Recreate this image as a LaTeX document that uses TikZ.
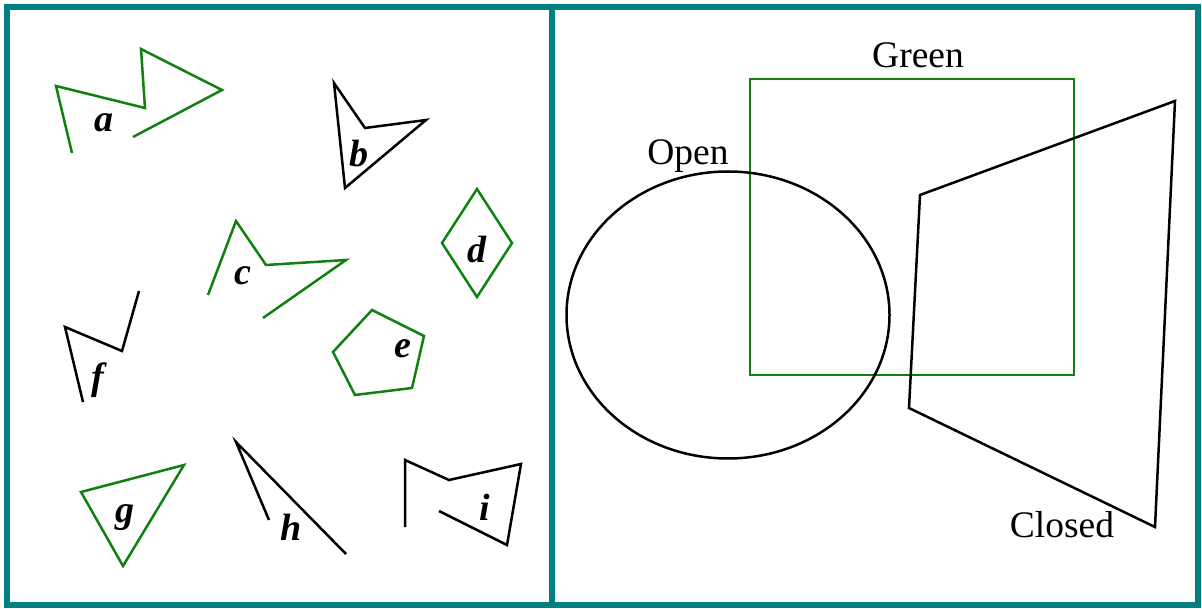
\documentclass[tikz,border=0pt]{standalone}
\usepackage{fontspec}
\setmainfont{Liberation Serif}
\definecolor{teal}{RGB}{0,128,128}
\definecolor{dgreen}{RGB}{16,128,16}
\begin{document}
\begin{tikzpicture}[x=1pt,y=-1pt,
  shp/.style={line width=2.5pt,line join=miter},
  gr/.style={shp,draw=dgreen},
  bk/.style={shp,draw=black},
  lbl/.style={anchor=base,inner sep=0pt,font=\fontsize{38}{40}\selectfont\bfseries\itshape},
  word/.style={anchor=base,inner sep=0pt,font=\fontsize{37.5}{40}\selectfont}]
\useasboundingbox (0,0) rectangle (1202,609);
% frame
\draw[teal,line width=6pt] (7,7) rectangle (1198,605);
\draw[teal,line width=6pt] (552,7) -- (552,605);
% left panel shapes
\draw[gr] (72,153) -- (56,86) -- (145,108) -- (141,49) -- (222,90) -- (133,137);
\node[lbl] (la) at (104,132) {a};
\draw[bk] (334,83) -- (365,128) -- (426,120) -- (345,188) -- cycle;
\node[lbl] (lb) at (359,167) {b};
\draw[gr] (208,295) -- (236,221) -- (266,265) -- (346,260) -- (263,318);
\node[lbl] (lc) at (243,285) {c};
\draw[gr] (477,189) -- (512,243) -- (477,297) -- (442,243) -- cycle;
\node[lbl] (ld) at (477,263) {d};
\draw[gr] (372,310) -- (424,336) -- (412,388) -- (355,395) -- (333,352) -- cycle;
\node[lbl] (le) at (403,358) {e};
\draw[bk] (139,291) -- (122,351) -- (65,327) -- (83,402);
\node[lbl] (lf) at (98,389) {f};
\draw[gr] (81,492) -- (184,465) -- (123,566) -- cycle;
\node[lbl] (lg) at (125,522) {g};
\draw[bk] (269,520) -- (236,442) -- (346,554);
\node[lbl] (lh) at (291,540) {h};
\draw[bk] (405,527) -- (405,460) -- (449,480) -- (521,464) -- (507,545) -- (439,511);
\node[lbl] (li) at (485,520) {i};
% right panel
\draw[gr] (750,79) rectangle (1074,375);
\draw[bk] (728,315) ellipse [x radius=161.5, y radius=143.5];
\draw[bk] (920,195) -- (1175,101) -- (1155,527) -- (909,408) -- cycle;
\node[word] (green) at (918,68) {Green};
\node[word] (open) at (688,165) {Open};
\node[word] (closed) at (1062,537) {Closed};
\end{tikzpicture}
\end{document}
